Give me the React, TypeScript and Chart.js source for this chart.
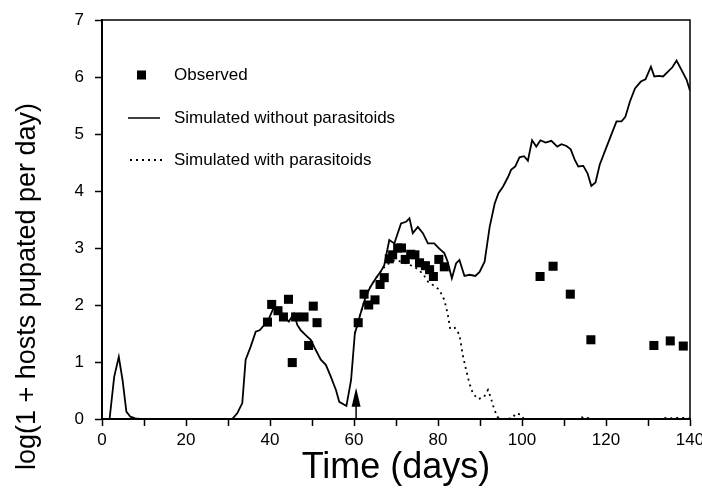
import React, { useEffect, useRef } from "react";
import { Chart, registerables } from "chart.js";

Chart.register(...registerables);

// Observed points
const obsDays = [
  39.4, 40.4, 41.9, 43.2, 44.4, 45.3, 46.1, 48.1, 49.2, 50.3, 51.2,
  61.0, 62.4, 63.5, 65.0, 66.2, 67.2, 68.4, 69.2, 70.4, 71.3, 72.2, 73.5, 74.5, 75.6, 77.0, 78.0, 78.9, 80.2, 81.5,
  104.3, 107.4, 111.5, 116.4, 131.4, 135.3, 138.4,
];
const obsValues = [
  1.70, 2.01, 1.90, 1.79, 2.10, 0.99, 1.79, 1.79, 1.29, 1.98, 1.69,
  1.69, 2.19, 2.00, 2.09, 2.36, 2.48, 2.81, 2.88, 3.00, 3.00, 2.80, 2.89, 2.88, 2.74, 2.69, 2.62, 2.50, 2.80, 2.67,
  2.50, 2.68, 2.19, 1.39, 1.29, 1.37, 1.28,
];

// Simulated without parasitoids
const simDays = [
  0, 1.8, 2.9, 4.0, 4.9, 5.8, 6.75, 7.9, 9, 31, 32.2, 33.4, 34.2, 35.4, 36.6, 37.6, 38.6, 39.8, 40.8, 42.1,
  43.3, 44.5, 45.7, 46.5, 47.3, 48.5, 49.7, 50.9, 52.1, 53.3, 54.5, 55.7, 56.5, 57.7, 58.2, 59.3, 60.2, 61.6,
  62.8, 64.0, 65.2, 66.4, 67.2, 68.4, 69.6, 71.2, 72.4, 73.2, 74.0, 75.2, 76.4, 77.6, 79.1, 80.3, 81.5, 82.3,
  83.3, 84.3, 85.1, 86.3, 87.5, 88.9, 89.9, 91.1, 92.3, 93.5, 94.4, 95.5, 96.7, 97.4, 98.4, 99.4, 100.5, 101.4,
  102.4, 103.4, 104.4, 105.6, 107.0, 108.4, 109.4, 110.6, 111.6, 112.6, 113.4, 114.6, 115.6, 116.5, 117.5,
  118.5, 119.7, 120.9, 122.5, 123.7, 124.6, 125.7, 126.9, 128.3, 129.4, 130.7, 131.5, 132.6, 133.6, 134.7,
  135.8, 136.8, 138.0, 139.2, 140,
];
const simValues = [
  0, 0, 0.74, 1.09, 0.68, 0.13, 0.04, 0.01, 0, 0, 0.10, 0.28, 1.04, 1.27, 1.53, 1.56, 1.65, 1.77, 1.94, 1.88,
  1.79, 1.71, 1.85, 1.65, 1.56, 1.47, 1.39, 1.21, 1.04, 0.95, 0.74, 0.51, 0.30, 0.25, 0.23, 0.68, 1.50, 1.86,
  2.15, 2.33, 2.47, 2.59, 2.70, 3.14, 3.08, 3.43, 3.46, 3.52, 3.26, 3.37, 3.26, 3.08, 3.08, 2.99, 2.91, 2.76,
  2.47, 2.73, 2.79, 2.51, 2.53, 2.51, 2.58, 2.76, 3.37, 3.78, 3.96, 4.08, 4.25, 4.37, 4.43, 4.59, 4.61, 4.53,
  4.89, 4.78, 4.89, 4.85, 4.88, 4.78, 4.82, 4.79, 4.73, 4.54, 4.43, 4.44, 4.31, 4.09, 4.15,
  4.46, 4.69, 4.92, 5.22, 5.22, 5.30, 5.57, 5.80, 5.92, 5.96, 6.18, 6.01, 6.02, 6.01, 6.09,
  6.17, 6.29, 6.12, 5.95, 5.76,
];

// Simulated with parasitoids
const parDays = [
  60.2, 61.6, 62.8, 64.0, 65.2, 66.4, 67.6, 69.6, 70.8, 72.4, 74.4, 76.4, 77.6, 78.8, 80.3, 81.5, 82.3, 82.9,
  84.0, 85.1, 85.9, 86.7, 87.5, 88.3, 89.5, 90.9, 91.9, 92.5, 93.3, 94.1, 95.0, 97.6, 98.6, 99.6, 100.5,
  113.6, 114.3, 115.0, 115.8, 116.4, 133.5, 134.3, 135.3, 136.3, 137.3, 138.3, 139.3, 140,
];
const parValues = [
  1.50, 1.86, 2.15, 2.33, 2.47, 2.59, 2.70, 2.78, 2.77, 2.73, 2.67, 2.55, 2.41, 2.35, 2.27, 2.09, 1.85, 1.58,
  1.60, 1.48, 1.12, 0.86, 0.62, 0.45, 0.35, 0.38, 0.51, 0.39, 0.19, 0.04, 0, 0.01, 0.10, 0.08, 0,
  0, 0.03, 0, 0.02, 0, 0, 0.02, 0.01, 0.02, 0.02, 0.02, 0.02, 0,
];

// Arrow marking parasitoid release
const arrowDay = 60.5;
const arrowTop = 0.55;

const xTickStep = 10;
const xLabelStep = 20;
const yTickStep = 1;

const legendLabels = ["Observed", "Simulated without parasitoids", "Simulated with parasitoids"];
const xTitle = "Time (days)";
const yTitle = "log(1 + hosts pupated per day)";

const FONT = "'Liberation Sans', Arial, Helvetica, sans-serif";

export default function App() {
  const ref = useRef<HTMLCanvasElement | null>(null);

  useEffect(() => {
    const canvas = ref.current;
    if (!canvas) return;

    const framePlugin = {
      id: "frame",
      afterDatasetsDraw(chart: any) {
        const { ctx, chartArea, scales } = chart;
        ctx.save();
        ctx.strokeStyle = "#000";
        ctx.lineWidth = 1.5;
        ctx.beginPath();
        ctx.moveTo(chartArea.left, chartArea.top);
        ctx.lineTo(chartArea.right, chartArea.top);
        ctx.lineTo(chartArea.right, chartArea.bottom);
        ctx.stroke();
        // arrow
        const ax = scales.x.getPixelForValue(arrowDay);
        const ay0 = scales.y.getPixelForValue(0);
        const ay1 = scales.y.getPixelForValue(arrowTop);
        ctx.lineWidth = 1.5;
        ctx.beginPath();
        ctx.moveTo(ax, ay0);
        ctx.lineTo(ax, ay1 + 10);
        ctx.stroke();
        ctx.fillStyle = "#000";
        ctx.beginPath();
        ctx.moveTo(ax, ay1);
        ctx.lineTo(ax - 4.5, ay1 + 19);
        ctx.lineTo(ax + 4.5, ay1 + 19);
        ctx.closePath();
        ctx.fill();
        ctx.restore();
      },
      afterDraw(chart: any) {
        const { ctx, chartArea } = chart;
        const lx = chartArea.left;
        const ty = chartArea.top;
        ctx.save();
        ctx.fillStyle = "#000";
        ctx.strokeStyle = "#000";
        ctx.font = `17px ${FONT}`;
        ctx.textBaseline = "middle";
        const textX = lx + 72;
        const rows = [ty + 55, ty + 98, ty + 140];
        // observed
        ctx.fillRect(lx + 35, rows[0] - 4.5, 9, 9);
        ctx.fillText(legendLabels[0], textX, rows[0]);
        // solid
        ctx.lineWidth = 1.5;
        ctx.beginPath();
        ctx.moveTo(lx + 26, rows[1]);
        ctx.lineTo(lx + 58, rows[1]);
        ctx.stroke();
        ctx.fillText(legendLabels[1], textX, rows[1]);
        // dotted
        ctx.setLineDash([2, 4]);
        ctx.lineWidth = 1.8;
        ctx.beginPath();
        ctx.moveTo(lx + 28, rows[2]);
        ctx.lineTo(lx + 60, rows[2]);
        ctx.stroke();
        ctx.setLineDash([]);
        ctx.fillText(legendLabels[2], textX, rows[2]);
        // y-axis title
        ctx.font = `27px ${FONT}`;
        ctx.textBaseline = "middle";
        ctx.textAlign = "left";
        ctx.translate(28, chart.height - 21);
        ctx.rotate(-Math.PI / 2);
        ctx.fillText(yTitle, 0, 0);
        ctx.restore();
      },
    };

    const chart = new Chart(canvas, {
      type: "scatter",
      data: {
        datasets: [
          {
            label: legendLabels[1],
            type: "line",
            data: simDays.map((d, i) => ({ x: d, y: simValues[i] })),
            borderColor: "#000",
            borderWidth: 1.8,
            pointRadius: 0,
            tension: 0,
            fill: false,
          },
          {
            label: legendLabels[2],
            type: "line",
            data: parDays.map((d, i) => ({ x: d, y: parValues[i] })),
            borderColor: "#000",
            borderWidth: 1.8,
            borderDash: [2, 4],
            pointRadius: 0,
            tension: 0,
            fill: false,
          },
          {
            label: legendLabels[0],
            data: obsDays.map((d, i) => ({ x: d, y: obsValues[i] })),
            pointStyle: "rect",
            pointRadius: 6.4,
            backgroundColor: "#000",
            borderColor: "#000",
            borderWidth: 0,
          },
        ],
      },
      options: {
        responsive: false,
        animation: false,
        layout: { padding: { top: 20, right: 12, left: 0, bottom: 0 } },
        plugins: { legend: { display: false }, tooltip: { enabled: false } },
        scales: {
          x: {
            type: "linear",
            min: 0,
            max: 140,
            ticks: {
              stepSize: xTickStep,
              autoSkip: false,
              maxRotation: 0,
              color: "#000",
              padding: 4,
              font: { family: FONT, size: 17 },
              callback: (v: any) => (Number(v) % xLabelStep === 0 ? String(v) : ""),
            },
            grid: { drawOnChartArea: false, drawTicks: true, tickLength: 7, tickColor: "#000", tickWidth: 1.5 },
            border: { display: true, color: "#000", width: 2 },
            title: { display: true, text: xTitle, color: "#000", font: { family: FONT, size: 36 }, padding: { top: 0, bottom: 1 } },
            afterFit: (s: any) => {
              s.height = 72;
              s.paddingLeft = 0;
              s.paddingRight = 0;
            },
          },
          y: {
            min: 0,
            max: 7,
            ticks: {
              stepSize: yTickStep,
              color: "#000",
              padding: 11,
              font: { family: FONT, size: 17 },
            },
            grid: { drawOnChartArea: false, drawTicks: true, tickLength: 7, tickColor: "#000", tickWidth: 1.5 },
            border: { display: true, color: "#000", width: 2 },
            title: { display: false },
            afterFit: (s: any) => {
              s.width = 102;
              s.paddingTop = 0;
              s.paddingBottom = 0;
            },
          },
        },
      },
      plugins: [framePlugin],
    });

    return () => chart.destroy();
  }, []);

  return (
    <div style={{ position: "absolute", left: 0, top: 0, width: 702, height: 491, background: "#fff" }}>
      <canvas ref={ref} width={702} height={491} style={{ display: "block" }} />
    </div>
  );
}
